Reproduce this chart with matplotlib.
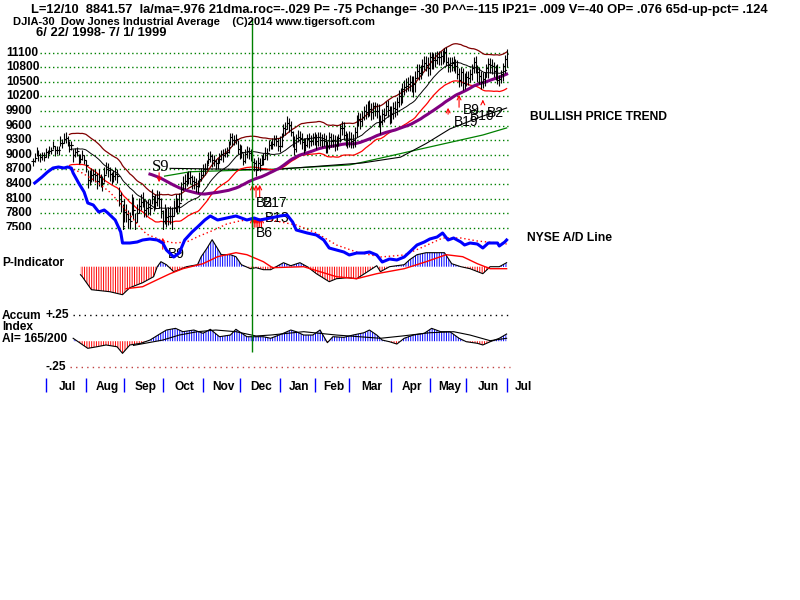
import matplotlib
matplotlib.use('Agg')
import matplotlib.pyplot as plt
import numpy as np
import pandas as pd

plt.rcParams['font.family'] = ['Liberation Sans', 'DejaVu Sans']
plt.rcParams['hatch.linewidth'] = 0.7

W, H = 800, 600

# ------------------------------------------------------------
# DJIA daily closes, 6/22/1998 - 7/1/1999 (one value per trading day)
# ------------------------------------------------------------
cl = (
    [8870, 8923, 9050, 9000, 8945, 8990, 8952] +
    [9048, 9025, 9085, 9089, 9174, 9089, 9105, 9096, 9245, 9234, 9328,
     9338, 9295, 9190, 9190, 9000, 9050, 9070, 8935, 8910, 9000, 8883] +
    [8786, 8487, 8546, 8577, 8599, 8574, 8462, 8552, 8459, 8425, 8574,
     8714, 8693, 8611, 8533, 8566, 8602, 8566, 8166, 8052, 7539] +
    [7827, 7783, 7682, 7640, 8021, 7865, 7615, 7795, 7945, 8024, 8089,
     7873, 7895, 7933, 7897, 8154, 8002, 8028, 8109, 8080, 7843] +
    [7632, 7784, 7726, 7742, 7741, 7731, 7899, 8001, 7939, 8001, 8299,
     8416, 8466, 8505, 8520, 8534, 8452, 8432, 8366, 8371, 8495, 8592] +
    [8706, 8706, 8783, 8916, 8975, 8897, 8863, 8823, 8829, 8919, 9011,
     8987, 9041, 9057, 9160, 9374, 9302, 9301, 9333, 9117] +
    [9133, 9064, 8879, 9016, 9070, 9027, 9009, 8842, 8821, 8695, 8823,
     8790, 8875, 8903, 9045, 9044, 9203, 9218, 9226, 9320, 9274, 9181] +
    [9184, 9311, 9545, 9537, 9643, 9620, 9474, 9349, 9121, 9340, 9356,
     9336, 9265, 9120, 9203, 9324, 9284, 9281, 9359] +
    [9346, 9274, 9366, 9305, 9304, 9291, 9133, 9177, 9364, 9274, 9298,
     9190, 9279, 9340, 9553, 9552, 9400, 9324, 9306] +
    [9325, 9275, 9297, 9468, 9736, 9728, 9693, 9773, 9897, 9876, 9958,
     9931, 9880, 9997, 9903, 9890, 9671, 9666, 9836, 9822, 10006, 9914, 9786] +
    [9832, 9963, 9930, 10085, 10198, 10173, 10340, 10398, 10411, 10463, 10493,
     10440, 10448, 10582, 10727, 10689, 10718, 10831, 10878, 10846, 10789] +
    [11014, 10886, 10955, 10946, 11001, 11007, 11027, 11001, 11107, 10913,
     10853, 10837, 10887, 10866, 10830, 10654, 10532, 10703, 10466, 10559] +
    [10596, 10577, 10663, 10790, 10909, 10765, 10691, 10621, 10490, 10564, 10594,
     10784, 10855, 10841, 10815, 10721, 10722, 10534, 10552, 10655, 10815, 10971] +
    [11066]
)
# high above close / low below close (points)
up = (
    [70, 110, 100, 90, 80, 75, 95] +
    [80, 75, 95, 65, 110, 90, 75, 80, 130, 95, 110, 120, 80, 95, 90, 110, 90, 95, 80, 105, 95, 120] +
    [110, 190, 130, 145, 110, 135, 160, 145, 150, 130, 175, 145, 130, 135, 120, 130, 145, 135, 175, 190, 450] +
    [260, 200, 190, 180, 170, 260, 180, 200, 160, 160, 150, 210, 170, 160, 190, 140, 150, 160, 170, 180, 260] +
    [230, 200, 180, 190, 210, 200, 180, 190, 170, 210, 150, 150, 140, 130, 140, 135, 140, 130, 150, 110, 160, 130] +
    [110, 130, 110, 145, 95, 110, 130, 95, 110, 120, 95, 130, 105, 110, 130, 80, 145, 110, 95, 175] +
    [95, 145, 160, 95, 110, 130, 110, 190, 110, 190, 130, 145, 110, 130, 110, 95, 95, 65, 110, 95, 130, 160] +
    [210, 130, 95, 145, 160, 130, 220, 145, 270, 95, 145, 160, 175, 220, 145, 110, 160, 130, 95] +
    [130, 145, 95, 160, 130, 145, 270, 110, 95, 175, 130, 210, 110, 95, 80, 145, 270, 160, 145] +
    [160, 190, 130, 95, 80, 145, 160, 130, 110, 160, 145, 190, 190, 95, 190, 175, 370, 145, 95, 145, 95, 220, 210] +
    [160, 110, 175, 95, 130, 190, 130, 145, 160, 130, 145, 175, 160, 145, 130, 175, 130, 145, 160, 190, 210] +
    [95, 220, 145, 160, 130, 130, 110, 160, 95, 290, 145, 175, 130, 160, 145, 300, 255, 95, 320, 130] +
    [130, 145, 95, 65, 95, 255, 145, 175, 240, 145, 110, 80, 130, 145, 160, 175, 130, 335, 95, 95, 65, 80] +
    [110]
)
dn = (
    [95, 75, 80, 130, 90, 95, 80] +
    [90, 95, 75, 80, 65, 110, 90, 95, 75, 90, 80, 95, 110, 130, 95, 145, 95, 90, 120, 80, 105, 80] +
    [145, 175, 160, 130, 135, 145, 160, 190, 130, 175, 130, 110, 145, 160, 145, 135, 130, 150, 210, 225, 140] +
    [200, 170, 180, 160, 260, 180, 210, 170, 140, 150, 170, 160, 180, 170, 140, 170, 160, 150, 170, 180, 140] +
    [170, 210, 220, 190, 170, 300, 160, 170, 160, 180, 250, 150, 170, 140, 130, 130, 150, 140, 130, 150, 160, 135] +
    [160, 130, 95, 110, 130, 145, 95, 110, 130, 95, 110, 145, 95, 110, 130, 175, 130, 95, 110, 95] +
    [220, 130, 95, 190, 130, 110, 130, 95, 160, 130, 145, 130, 95, 110, 130, 145, 130, 95, 110, 145, 95, 110] +
    [130, 160, 190, 130, 110, 145, 95, 190, 130, 290, 95, 110, 145, 95, 130, 175, 145, 110, 160] +
    [145, 160, 190, 130, 145, 110, 95, 145, 240, 110, 145, 110, 175, 160, 290, 145, 95, 145, 160] +
    [175, 145, 160, 300, 370, 130, 160, 175, 190, 145, 175, 130, 160, 255, 110, 130, 95, 240, 220, 160, 190, 130, 145] +
    [190, 220, 145, 270, 210, 160, 270, 175, 130, 160, 190, 160, 270, 290, 160, 145, 160, 190, 145, 130, 175] +
    [370, 130, 190, 145, 145, 160, 175, 145, 210, 95, 160, 130, 175, 145, 160, 95, 145, 300, 130, 210] +
    [190, 145, 175, 255, 220, 95, 190, 175, 130, 190, 175, 190, 270, 160, 160, 130, 190, 80, 145, 190, 300, 300] +
    [270]
)

# long moving averages (trading-day index, value)
ma150_day = [75, 130, 180, 201, 215, 228, 245, 259]
ma150_val = [8720, 8690, 8830, 8950, 9230, 9530, 9780, 9960]
ma200_day = [72, 86, 130, 173, 179, 210, 246, 259]
ma200_val = [8560, 8650, 8700, 8790, 8836, 9100, 9405, 9550]

# NYSE A/D line (relative units) and its moving average
ad_day = [1, 5, 8, 11, 14, 17, 19, 21, 22, 25, 28, 30, 33, 36, 39, 41, 45, 48, 49, 53,
          57, 60, 64, 68, 71, 73, 77, 80, 83, 87, 90, 94, 97, 101, 106, 111, 117, 121, 124, 130,
          135, 139, 142, 144, 150, 155, 159, 162, 166, 170, 173, 177, 181, 184, 188, 191, 195, 199, 203, 206,
          210, 214, 217, 221, 224, 227, 230, 234, 236, 239, 243, 246, 249, 254, 255, 258, 259]
ad_val = [117, 123, 128, 132, 133, 132, 133, 132, 127, 117, 108, 97, 95, 88, 90, 87, 80, 68, 57, 57,
          58, 60, 61, 60, 57, 50, 43, 47, 60, 68, 73, 80, 84, 80, 82, 84, 80, 82, 80, 82,
          84, 85, 78, 70, 67, 65, 60, 52, 50, 48, 45, 47, 47, 48, 45, 38, 41, 40, 43, 48,
          55, 58, 61, 63, 67, 60, 62, 58, 55, 57, 56, 52, 57, 57, 54, 58, 60]
adma_day = [20, 27, 35, 42, 49, 57, 62, 70, 77, 84, 91, 99, 106, 113, 121, 130, 144, 155,
            166, 177, 190, 203, 212, 224, 234, 243, 254, 259]
adma_val = [132, 127, 118, 108, 94, 76, 66, 60, 57, 58, 64, 70, 76, 79, 81, 80, 75, 67,
            55, 48, 43, 45, 52, 62, 62, 59, 57, 56]

# P-Indicator (relative units) and its moving average
p_day = [26, 27, 32, 42, 49, 53, 60, 66, 68, 70, 73, 77, 80, 84, 90, 92, 95, 98, 101, 103,
         108, 111, 114, 119, 122, 126, 130, 137, 141, 146, 150, 155, 162, 166, 172, 177, 183, 188, 190, 195,
         203, 206, 210, 215, 221, 225, 229, 234, 239, 246, 250, 255, 259]
p_val = [-8, -10, -23, -25, -28, -21, -16, -10, 0, 5, 2, -5, -3, 0, 2, 10, 18, 27, 18, 12,
         12, 10, 2, -2, -1, -3, -3, 4, 1, 4, 0, -7, -15, -12, -11, -12, -5, 1, -5, 0,
         2, 7, 12, 14, 14, 14, 3, 0, -2, -7, 0, 0, 4]
pma_day = [51, 60, 68, 75, 82, 93, 101, 111, 117, 126, 131, 148, 166, 177, 188, 203, 215, 226, 235, 243, 250, 259]
pma_val = [-22, -20, -13, -7, -2, 3, 10, 14, 12, 5, -1, 0, -10, -12, -7, -2, 5, 12, 10, 3, -2, -2]

# Accumulation Index and its moving average
ai_day = [22, 26, 30, 35, 40, 46, 49, 53, 59, 64, 70, 73, 78, 82, 88, 93, 97, 102, 108, 111,
          117, 126, 130, 137, 141, 144, 148, 153, 157, 161, 164, 170, 175, 181, 184, 188, 191, 195, 199, 203,
          208, 214, 218, 223, 228, 233, 237, 243, 246, 250, 255, 259]
ai_val = [0.028, -0.020, -0.068, -0.053, -0.036, -0.053, -0.116, -0.036, -0.020, 0.011, 0.076, 0.107, 0.123, 0.091,
          0.107, 0.076, 0.114, 0.043, 0.059, 0.114, 0.043, 0.043, 0.028, 0.076, 0.107, 0.091, 0.059, 0.059,
          0.107, -0.014, 0.043, 0.037, 0.059, 0.081, 0.107, 0.059, 0.011, -0.005, -0.027, 0.028, 0.059, 0.076,
          0.123, 0.091, 0.091, 0.028, -0.005, -0.020, -0.036, -0.005, 0.028, 0.069]
aima_day = [55, 71, 80, 90, 100, 111, 122, 130, 148, 166, 190, 202, 217, 230, 239, 250, 259]
aima_val = [-0.040, 0.011, 0.059, 0.091, 0.107, 0.091, 0.050, 0.059, 0.091, 0.059, 0.028, 0.050,
            0.081, 0.091, 0.059, 0.005, 0.028]

price_levels = [11100, 10800, 10500, 10200, 9900, 9600, 9300, 9000, 8700, 8400, 8100, 7800, 7500]
month_start = [7, 29, 50, 71, 93, 113, 135, 154, 173, 196, 217, 237, 259]
month_names = ['Jul', 'Aug', 'Sep', 'Oct', 'Nov', 'Dec', 'Jan', 'Feb', 'Mar', 'Apr', 'May', 'Jun', 'Jul']
marker_day = 120   # 12/10/1998

# signals: (label, day, text price) and arrows (day, tail, tip)
signals_text = [('B9', 74, 6960), ('B2', 122, 8008), ('B17', 126, 8008), ('B13', 127, 7700),
                ('B6', 122, 7391), ('B9', 235, 9918), ('B19', 230, 9672), ('B10', 239, 9800),
                ('B2', 248, 9850)]
arrows = [(71, 7001, 7351), (120, 8069, 8439), (122, 8069, 8439), (124, 8069, 8439),
          (120, 7453, 7761), (121, 7453, 7761), (122, 7453, 7761), (123, 7453, 7761),
          (124, 7453, 7761), (125, 7453, 7761), (227, 9775, 10021), (233, 9918, 10288),
          (246, 10021, 10186)]

# ------------------------------------------------------------
n = min(len(cl), len(up), len(dn))
days = np.arange(n)
cl = np.array(cl[:n], dtype=float)
hi = cl + np.array(up[:n])
lo = cl - np.array(dn[:n])
s = pd.Series(cl)
ma21 = s.rolling(21).mean()
ma65 = s.rolling(65).mean()
prev = s.shift(1).bfill()

PX0, PXD = 32.9, 1.829
XL = (-PX0 / PXD, (W - PX0) / PXD)

fig = plt.figure(figsize=(W / 100, H / 100), dpi=100)
fig.patch.set_facecolor('white')


def panel(top, bottom, ylim):
    ax = fig.add_axes([0, 1 - bottom / H, 1, (bottom - top) / H])
    ax.set_xlim(*XL)
    ax.set_ylim(*ylim)
    ax.axis('off')
    ax.patch.set_alpha(0)
    return ax


def day_of_px(x):
    return (x - PX0) / PXD


dot = (0, (1, 2))

# ---------------- price panel ----------------
axp = panel(40, 230, (7453, 11357))
axp.hlines(price_levels, day_of_px(40), day_of_px(510), colors='#008000', linestyles=dot, lw=1)
for lv in price_levels:
    axp.text(day_of_px(6), lv, str(lv), ha='left', va='center', fontsize=8.6,
             fontweight='bold', clip_on=True)
axp.plot(ma200_day, ma200_val, color='#008000', lw=0.9)
axp.plot(ma150_day, ma150_val, color='black', lw=0.8)
axp.plot(days, ma21 * 1.035, color='#800000', lw=0.9)
axp.plot(days, ma21 * 0.965, color='#FF0000', lw=0.9)
axp.plot(days, ma21, color='black', lw=0.7)
axp.plot(days, ma65, color='#800080', lw=2.2)
axp.vlines(days, lo, hi, color='black', lw=0.8)
axp.hlines(cl, days, days + 0.9, color='black', lw=0.8)
axp.hlines(prev, days - 0.9, days, color='black', lw=0.8)

# ---------------- A/D line ----------------
axa = panel(140, 300, (0, 160))
axa.plot(adma_day, adma_val, color='#FF0000', lw=1, linestyle=dot)
axa.plot(ad_day, ad_val, color='#0000FF', lw=2.2)

# ---------------- P-Indicator ----------------
axi = panel(230, 300, (-33.3, 36.7))
pv = np.array(p_val, dtype=float)
axi.fill_between(p_day, 0, pv, where=pv < 0, interpolate=True, facecolor='none',
                 edgecolor='#FF0000', hatch='|' * 7, lw=0)
axi.fill_between(p_day, 0, pv, where=pv > 0, interpolate=True, facecolor='none',
                 edgecolor='#0000FF', hatch='|' * 7, lw=0)
axi.plot(p_day, p_val, color='black', lw=0.8)
axi.plot(pma_day, pma_val, color='#FF0000', lw=1)

# ---------------- Accumulation Index ----------------
axc = panel(300, 375, (-0.323, 0.394))
av = np.array(ai_val)
axc.hlines(0.25, day_of_px(73), day_of_px(510), colors='black', linestyles=(0, (1, 3)), lw=1)
axc.hlines(-0.25, day_of_px(70), day_of_px(510), colors='#C04040', linestyles=(0, (1, 3)), lw=1)
axc.fill_between(ai_day, 0, av, where=av < 0, interpolate=True, facecolor='none',
                 edgecolor='#FF0000', hatch='|' * 7, lw=0)
axc.fill_between(ai_day, 0, av, where=av > 0, interpolate=True, facecolor='none',
                 edgecolor='#0000FF', hatch='|' * 7, lw=0)
axc.plot(ai_day, ai_val, color='black', lw=0.8)
axc.plot(aima_day, aima_val, color='black', lw=0.8)
axc.text(day_of_px(45), 0.25, '+.25', ha='left', va='center', fontsize=8.6, fontweight='bold')
axc.text(day_of_px(45), -0.25, '-.25', ha='left', va='center', fontsize=8.6, fontweight='bold')

# ---------------- overlay: dates, marker line, signals ----------------
axo = panel(0, 600, (600, 0))
axo.vlines(marker_day, 18, 352, color='#008000', lw=1)
axo.vlines(month_start, 378, 392, color='#0000FF', lw=1)
mids = [(a + b) / 2 + 1 for a, b in zip(month_start[:-1], month_start[1:])] + [268]
for m, name in zip(mids, month_names):
    axo.text(m, 387, name, ha='center', va='center', fontsize=8.6, fontweight='bold')

for d, tail, tip in arrows:
    axp.annotate('', xy=(d, tip), xytext=(d, tail), annotation_clip=False,
                 arrowprops=dict(arrowstyle='->', color='#FF0000', lw=0.8, mutation_scale=7))
axp.annotate('', xy=(69, 8377), xytext=(69, 8686), annotation_clip=False,
             arrowprops=dict(arrowstyle='->', color='#FF0000', lw=0.8, mutation_scale=7))
axp.text(65, 8748, 'S9', ha='left', va='center', fontsize=12, family='Liberation Serif',
         clip_on=False)
for lab, d, v in signals_text:
    axp.text(d, v, lab, ha='left', va='center', fontsize=10, clip_on=False)

# ---------------- texts ----------------
def ftext(x, y, s, **kw):
    fig.text(x / W, 1 - y / H, s, va='center', ha='left', fontweight='bold', **kw)

ftext(31, 10, 'L=12/10  8841.57  la/ma=.976 21dma.roc=-.029 P= -75 Pchange= -30 P^^=-115 '
      'IP21= .009 V=-40 OP= .076 65d-up-pct= .124', fontsize=9.3)
ftext(13, 22, 'DJIA-30  Dow Jones Industrial Average    (C)2014 www.tigersoft.com', fontsize=8.0)
ftext(36, 33, '6/ 22/ 1998- 7/ 1/ 1999', fontsize=9.3)
ftext(530, 117, 'BULLISH PRICE TREND', fontsize=8.7)
ftext(527, 238, 'NYSE A/D Line', fontsize=8.7)
ftext(2, 263, 'P-Indicator', fontsize=8.6)
ftext(2, 316, 'Accum', fontsize=8.6)
ftext(2, 327, 'Index', fontsize=8.6)
ftext(2, 339, 'AI= 165/200', fontsize=8.6)

fig.savefig('out.png', dpi=100)
